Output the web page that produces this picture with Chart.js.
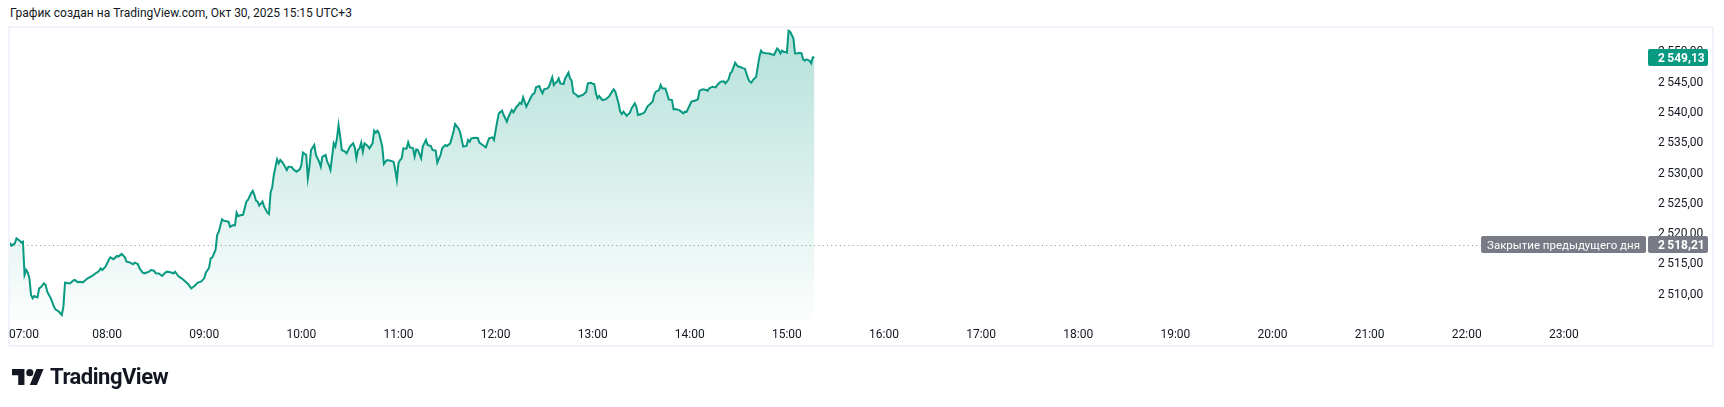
<!DOCTYPE html>
<html>
<head>
<meta charset="utf-8">
<script src="https://cdn.jsdelivr.net/npm/chart.js"></script>
<style>
  body { margin: 0; background: #fff; width: 1724px; height: 407px; overflow: hidden; font-family: Roboto, "Noto Sans", sans-serif; }
  #hdr { position: absolute; left: 10px; top: 6px; font-size: 12px; line-height: 14px; color: #131722; white-space: nowrap; }
  #frame { position: absolute; left: 8px; top: 26px; width: 1706px; height: 321px; border: 2px solid #f0f3fa; box-sizing: border-box; }
  #chart { position: absolute; left: 0; top: 0; }
  #logo { position: absolute; left: 12px; top: 365px; height: 26px; }
  #logoText { position: absolute; left: 50px; top: 366px; font-size: 22px; line-height: 22px; font-weight: 700; letter-spacing: -0.5px; color: #131722; }
</style>
</head>
<body>
<div id="hdr">График создан на TradingView.com, Окт 30, 2025 15:15 UTC+3</div>
<div id="frame"></div>
<canvas id="chart" width="1724" height="407"></canvas>
<svg id="logo" viewBox="0 0 36 28" width="32" height="25"><path fill="#131722" d="M14 22H7V11H0V4h14v18zM28 22h-8l7.5-18h8L28 22z"/><circle fill="#131722" cx="20" cy="8" r="4"/></svg>
<div id="logoText">TradingView</div>
<script>
// данные: минуты после 07:00 и цена
var minutes = [0,1,3,4,6,7,8,9,10,11,12,13,14,15,17,18,19,21,22,23,25,26,27,28,30,32,33,34,36,37,39,40,42,43,45,46,48,51,53,55,56,57,59,
  61,62,64,66,67,69,71,72,74,76,77,79,80,82,83,86,87,89,90,92,94,96,97,99,101,102,104,106,108,110,112,114,116,118,120,
  121,123,124,125,127,128,129,131,132,135,136,138,139,140,141,143,144,146,147,149,150,151,152,153,154,156,157,159,160,
  161,162,163,165,166,167,168,169,171,172,174,175,177,179,180,181,183,184,185,186,188,189,191,192,193,195,196,197,198,200,
  201,202,203,204,205,207,208,210,212,213,214,215,216,217,218,219,221,222,224,225,226,227,228,230,231,232,233,235,237,238,239,240,
  241,242,243,245,246,247,249,250,251,252,254,255,257,258,260,261,263,264,266,267,269,270,272,274,275,277,278,280,
  282,283,284,285,287,289,290,292,294,295,296,298,299,301,302,304,305,307,308,310,311,313,314,315,316,317,319,320,
  322,323,324,325,327,328,329,330,332,333,335,336,337,338,339,340,342,343,345,346,347,348,350,351,352,354,356,357,359,360,
  361,362,363,364,366,368,370,372,373,374,376,377,378,379,381,383,384,386,387,388,390,391,392,394,395,397,398,399,
  401,402,403,405,406,407,409,410,411,413,414,416,417,418,420,421,423,425,426,428,430,431,432,434,436,437,439,441,442,444,445,446,448,449,450,
  451,453,454,456,457,458,459,461,462,463,464,465,467,469,470,472,473,474,475,476,477,478,479,480,
  481,482,484,485,486,488,489,490,491,492,494,495,496,497];
var prices = [2518.60,2518.10,2518.49,2519.31,2518.92,2518.60,2518.76,2513.26,2514.09,2513.65,2512.71,2509.96,2509.41,2509.80,2509.58,2511.06,2511.23,2511.89,2511.61,2510.51,2509.52,2508.87,2508.15,2507.60,2507.27,2506.67,2508.04,2512.00,2511.89,2511.85,2512.33,2512.44,2512.05,2512.16,2512.05,2512.27,2512.71,2513.15,2513.54,2513.92,2514.36,2514.09,2514.64,
  2515.74,2516.18,2515.85,2516.40,2516.29,2516.73,2516.18,2515.46,2515.35,2515.02,2515.30,2515.08,2514.36,2513.65,2513.54,2513.81,2514.09,2513.98,2513.54,2513.50,2513.10,2513.65,2513.81,2513.70,2513.54,2513.81,2513.10,2512.71,2512.27,2511.78,2511.06,2511.45,2512.00,2512.16,2512.71,
  2513.65,2514.47,2516.01,2516.18,2517.39,2519.86,2520.41,2522.44,2522.22,2522.06,2521.23,2521.51,2521.45,2523.54,2522.99,2523.16,2523.20,2525.36,2525.63,2526.73,2527.12,2526.46,2525.52,2525.36,2524.70,2525.36,2524.53,2523.54,2523.32,
  2526.84,2527.72,2529.75,2532.34,2531.68,2532.23,2531.95,2531.57,2530.58,2531.13,2531.10,2530.69,2530.30,2530.69,2531.40,2533.44,2533.05,2529.20,2531.13,2533.88,2534.70,2533.05,2531.95,2531.13,2532.78,2533.05,2531.95,2531.40,2530.58,2534.98,
  2534.43,2535.80,2538.00,2536.07,2533.88,2533.60,2533.33,2534.43,2534.98,2534.32,2532.50,2533.88,2534.15,2535.09,2533.60,2534.98,2534.54,2534.15,2534.98,2537.06,2536.73,2537.06,2536.62,2534.43,2531.57,2531.95,2532.23,2532.12,2531.95,2530.58,2528.93,2531.68,
  2532.23,2532.50,2534.15,2534.10,2535.14,2534.32,2534.15,2532.78,2533.99,2533.88,2532.50,2534.43,2535.53,2534.70,2534.54,2533.88,2533.77,2531.79,2533.05,2534.15,2534.70,2534.54,2534.98,2536.90,2538.16,2537.45,2536.90,2534.43,
  2534.54,2535.53,2535.25,2535.80,2535.91,2535.85,2535.09,2534.70,2534.32,2535.09,2535.80,2535.97,2535.53,2538.55,2539.92,2540.36,2539.65,2538.55,2539.37,2540.47,2540.09,2541.02,2541.30,2541.68,2541.46,2542.56,2541.02,2541.57,
  2542.67,2543.11,2543.22,2544.21,2544.43,2543.77,2543.22,2543.88,2544.05,2544.32,2545.86,2544.59,2544.98,2545.14,2545.69,2544.87,2544.76,2545.69,2546.63,2545.69,2545.31,2543.33,2542.95,2542.67,2542.78,2542.95,2543.50,2544.87,2544.98,2544.80,
  2544.76,2543.22,2542.40,2542.78,2542.12,2542.23,2542.67,2543.50,2543.88,2543.50,2541.57,2540.20,2539.81,2540.20,2539.54,2540.03,2540.75,2541.57,2541.02,2539.65,2539.81,2539.92,2540.09,2541.13,2541.35,2541.85,2542.95,2543.50,
  2543.77,2544.60,2544.05,2543.98,2543.11,2542.23,2542.12,2540.58,2540.62,2540.50,2540.36,2539.92,2540.20,2540.15,2541.30,2541.85,2542.01,2542.23,2543.66,2543.88,2543.77,2543.66,2544.05,2544.32,2544.21,2544.60,2545.15,2545.20,2544.87,2545.53,2546.52,2546.80,2548.28,2547.89,2547.62,
  2547.60,2547.34,2547.30,2545.69,2545.15,2544.98,2545.42,2545.97,2547.62,2549.27,2550.26,2549.93,2549.82,2549.80,2549.71,2549.54,2550.09,2550.64,2550.37,2549.82,2550.26,2550.09,2550.05,2549.93,
  2553.56,2553.39,2552.29,2549.82,2549.80,2549.93,2549.82,2548.83,2548.61,2548.83,2548.61,2548.17,2549.16,2549.13];

var timeLabels = ['07:00','08:00','09:00','10:00','11:00','12:00','13:00','14:00','15:00','16:00','17:00','18:00','19:00','20:00','21:00','22:00','23:00'];
var priceTicks = [2510, 2515, 2520, 2525, 2530, 2535, 2540, 2545, 2550];
var prevClose = 2518.21;
var lastPrice = 2549.13;
var prevCloseLabel = 'Закрытие предыдущего дня';

var green = '#089981';
var grey = '#787b86';
var textColor = '#131722';
var fontFamily = 'Roboto, "Noto Sans", sans-serif';

//формат цены: 2 545,00
function fmtPrice(v) {
  var p = Number(v).toFixed(2).split('.');
  return p[0].replace(/\B(?=(\d{3})+(?!\d))/g, '\u2009') + ',' + p[1];
}

//плашка на оси цен
function badge(c, x, yc, w, h, color, text, bold) {
  c.fillStyle = color;
  c.beginPath();
  c.roundRect(x, Math.round(yc - h / 2), w, h, 2);
  c.fill();
  c.fillStyle = '#ffffff';
  c.font = (bold ? 'bold ' : '') + '12px ' + fontFamily;
  c.textAlign = 'left';
  c.textBaseline = 'middle';
  c.fillText(text, x + 10, yc + 1);
}

var overlay = {
  id: 'overlay',
  beforeDatasetsDraw: function (chart) {
    var c = chart.ctx, a = chart.chartArea;
    var y = Math.round(chart.scales.y.getPixelForValue(prevClose)) + 0.5;
    c.save();
    c.strokeStyle = '#8f929b';
    c.lineWidth = 1;
    c.setLineDash([1, 3.3]);
    c.beginPath();
    c.moveTo(a.left, y);
    c.lineTo(a.right, y);
    c.stroke();
    c.restore();
  },
  afterDraw: function (chart) {
    var c = chart.ctx, a = chart.chartArea, ys = chart.scales.y, xs = chart.scales.x;
    c.save();
    //первая метка времени прижата к левому краю
    var items = xs.getLabelItems(a);
    var ref = items[1];
    c.save();
    c.translate(a.left - 1, ref.options.translation[1]);
    c.font = '12px ' + fontFamily;
    c.fillStyle = textColor;
    c.textAlign = 'left';
    c.textBaseline = ref.options.textBaseline;
    c.fillText(timeLabels[0], 0, ref.textOffset);
    c.restore();

    //последняя цена
    badge(c, a.right, ys.getPixelForValue(lastPrice), 60, 17, green, fmtPrice(lastPrice), true);

    //закрытие предыдущего дня
    var yp = ys.getPixelForValue(prevClose);
    c.font = '11.5px ' + fontFamily;
    var tw = c.measureText(prevCloseLabel).width;
    var lw = tw + 12;
    c.fillStyle = grey;
    c.beginPath();
    c.roundRect(a.right - 2 - lw, Math.round(yp - 8.5), lw, 17, 2);
    c.fill();
    c.fillStyle = '#ffffff';
    c.textAlign = 'left';
    c.textBaseline = 'middle';
    c.fillText(prevCloseLabel, a.right - 2 - lw + 6, yp + 1);
    badge(c, a.right, yp, 60, 17, grey, fmtPrice(prevClose), true);
    c.restore();
  }
};

var myChart = new Chart(document.getElementById('chart'), {
  type: 'line',
  data: {
    datasets: [{
      data: minutes.map(function (m, i) { return { x: m, y: prices[i] }; }),
      borderColor: green,
      borderWidth: 2,
      pointRadius: 0,
      tension: 0,
      fill: 'start',
      backgroundColor: function (ctx) {
        var a = ctx.chart.chartArea;
        if (!a) return 'rgba(8,153,129,0.15)';
        var g = ctx.chart.ctx.createLinearGradient(0, a.top, 0, a.bottom);
        g.addColorStop(0, 'rgba(8,153,129,0.3)');
        g.addColorStop(1, 'rgba(8,153,129,0.01)');
        return g;
      }
    }]
  },
  options: {
    responsive: false,
    animation: false,
    devicePixelRatio: 1,
    layout: { padding: { top: 28, left: 10, right: 10, bottom: 61 } },
    plugins: { legend: { display: false }, tooltip: { enabled: false } },
    scales: {
      x: {
        type: 'linear',
        min: 0,
        max: 1012,
        grid: { display: false, drawTicks: false },
        border: { display: false },
        afterBuildTicks: function (s) { s.ticks = timeLabels.map(function (t, i) { return { value: i * 60 }; }); },
        afterFit: function (s) { s.height = 26; s.paddingLeft = 0; s.paddingRight = 0; },
        ticks: {
          autoSkip: false,
          maxRotation: 0,
          padding: 8,
          color: textColor,
          font: { family: fontFamily, size: 12 },
          callback: function (v, i) { return i === 0 ? '' : timeLabels[i]; }
        }
      },
      y: {
        position: 'right',
        min: 2505.84,
        max: 2554,
        grid: { display: false, drawTicks: false },
        border: { display: false },
        afterBuildTicks: function (s) { s.ticks = priceTicks.map(function (v) { return { value: v }; }); },
        afterFit: function (s) { s.width = 66; s.paddingTop = 0; s.paddingBottom = 0; },
        ticks: {
          padding: 10,
          color: textColor,
          font: { family: fontFamily, size: 12 },
          callback: function (v) { return fmtPrice(v); }
        }
      }
    }
  },
  plugins: [overlay]
});
</script>
</body>
</html>
